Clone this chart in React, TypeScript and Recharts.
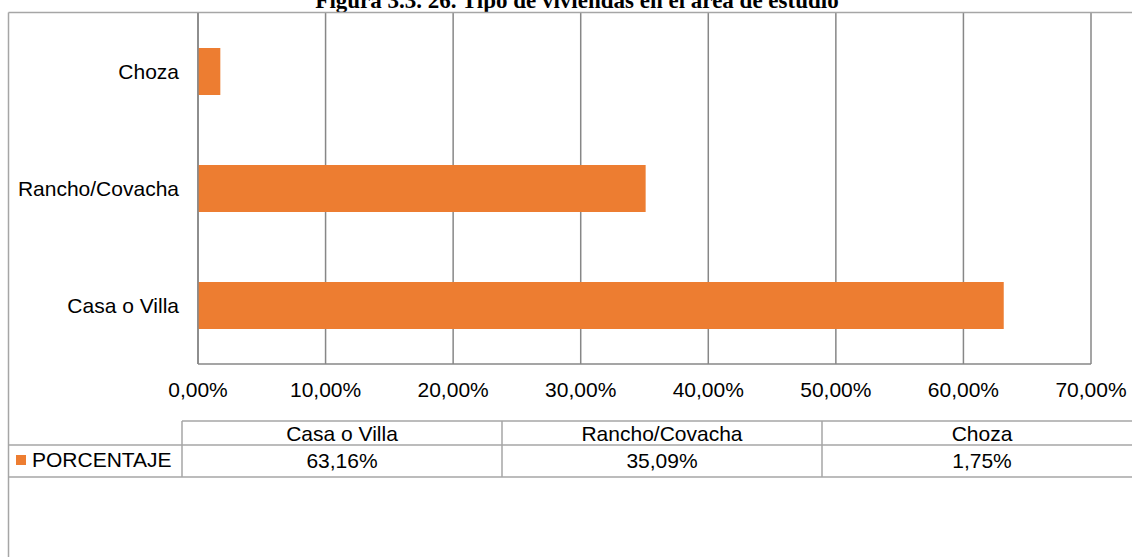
import React from "react";
import { BarChart, Bar, XAxis, YAxis, CartesianGrid, Customized } from "recharts";

const categories = ["Casa o Villa", "Rancho/Covacha", "Choza"];
const porcentaje = [63.16, 35.09, 1.75];
const seriesName = "PORCENTAJE";
const xTicks = [0, 10, 20, 30, 40, 50, 60, 70];
const title = "Figura 3.3. 26. Tipo de viviendas en el área de estudio";

const data = categories.map((c, i) => ({ name: c, value: porcentaje[i] }));

const W = 1132;
const H = 557;
const ORANGE = "#ED7D31";
const GRID = "#878787";
const FRAME = "#a6a6a6";
const FONT = "'Liberation Sans', Arial, sans-serif";

const fmt = (v: number) => `${v.toFixed(2).replace(".", ",")}%`;

const TableLayer = () => {
  const left = 8.5;
  const colStart = 182;
  const colW = 320;
  const yTop = 421;
  const yMid = 445;
  const yBot = 477;
  return (
    <g>
      <text x={577} y={8} textAnchor="middle" fontFamily="'Liberation Serif', 'Times New Roman', serif" fontWeight="bold" fontSize={23} fill="#000">
        {title}
      </text>
      <line x1={left} y1={12.5} x2={W} y2={12.5} stroke={FRAME} strokeWidth={1.5} />
      <line x1={left} y1={12.5} x2={left} y2={H} stroke={FRAME} strokeWidth={1.5} />
      <line x1={colStart} y1={yTop} x2={W} y2={yTop} stroke={FRAME} strokeWidth={1.5} />
      <line x1={left} y1={yMid} x2={W} y2={yMid} stroke={FRAME} strokeWidth={1.5} />
      <line x1={left} y1={yBot} x2={W} y2={yBot} stroke={FRAME} strokeWidth={1.5} />
      {categories.map((_, i) => (
        <line key={"d" + i} x1={colStart + i * colW} y1={yTop} x2={colStart + i * colW} y2={yBot} stroke={FRAME} strokeWidth={1.5} />
      ))}
      {categories.map((c, i) => (
        <text key={"h" + i} x={colStart + i * colW + colW / 2} y={440.5} textAnchor="middle" fontFamily={FONT} fontSize={21} fill="#000">
          {c}
        </text>
      ))}
      {porcentaje.map((v, i) => (
        <text key={"v" + i} x={colStart + i * colW + colW / 2} y={467.5} textAnchor="middle" fontFamily={FONT} fontSize={21} fill="#000">
          {fmt(v)}
        </text>
      ))}
      <rect x={16} y={455} width={10} height={10} fill={ORANGE} />
      <text x={32} y={467} fontFamily={FONT} fontSize={21} fill="#000">
        {seriesName}
      </text>
    </g>
  );
};

export default function App() {
  return (
    <div style={{ position: "absolute", left: 0, top: 0, width: W, height: H, background: "#fff" }}>
      <BarChart
        width={W}
        height={H}
        data={data}
        layout="vertical"
        margin={{ top: 13, right: 41, bottom: 163, left: 0 }}
        barSize={47}
      >
        <CartesianGrid horizontal={false} vertical={true} stroke={GRID} strokeWidth={1.5} />
        <XAxis
          type="number"
          domain={[0, 70]}
          ticks={xTicks}
          tickFormatter={fmt}
          height={30}
          tickLine={false}
          tickMargin={12}
          axisLine={{ stroke: GRID, strokeWidth: 1.5 }}
          tick={{ fill: "#000", fontSize: 21, fontFamily: FONT }}
          interval={0}
        />
        <YAxis
          type="category"
          dataKey="name"
          reversed
          width={198}
          tickLine={false}
          tickMargin={13}
          axisLine={{ stroke: GRID, strokeWidth: 1.5 }}
          tick={{ fill: "#000", fontSize: 21, fontFamily: FONT }}
        />
        <Bar dataKey="value" fill={ORANGE} isAnimationActive={false} />
        <Customized component={TableLayer} />
      </BarChart>
    </div>
  );
}
